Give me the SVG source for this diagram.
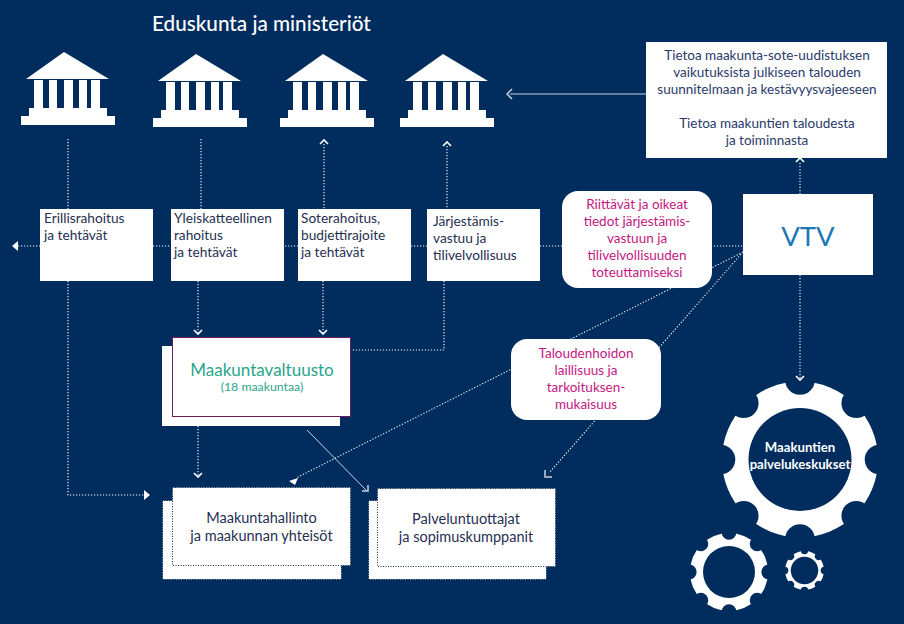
<svg xmlns="http://www.w3.org/2000/svg" xmlns:xlink="http://www.w3.org/1999/xlink" width="904" height="624" viewBox="0 0 904 624">
<style>
text{font-family:"Lato","Liberation Sans",sans-serif}
.d{fill:none;stroke:#fff;stroke-width:1.1;stroke-dasharray:1.200 1.800}
.s{fill:none;stroke:#c8d4e4;stroke-width:1}
.a{fill:none;stroke:#fff;stroke-width:1.600}
.t{fill:#fff}
.b{fill:#fff}
.n{fill:#1f3052;font-size:13.700px}
.c{text-anchor:middle}
.m{fill:#c4177f;font-size:13.500px;text-anchor:middle}
.k{fill:#1f3052;font-size:14.500px;text-anchor:middle}
</style>
<defs>
<path id="temple" d="M64 52L109 79H26ZM34 80H43V108H34ZM49 80H57V108H49ZM64 80H73V108H64ZM79 80H87V108H79ZM91 80H100V108H91ZM29 108H107V116H115V125H21V116H29Z"/>
<g id="gear">
<circle r="50" fill="#fff"/>
<g fill="#002d5e">
<circle cy="-51" r="9.500"/><circle cy="-51" r="9.500" transform="rotate(45)"/><circle cy="-51" r="9.500" transform="rotate(90)"/><circle cy="-51" r="9.500" transform="rotate(135)"/><circle cy="-51" r="9.500" transform="rotate(180)"/><circle cy="-51" r="9.500" transform="rotate(225)"/><circle cy="-51" r="9.500" transform="rotate(270)"/><circle cy="-51" r="9.500" transform="rotate(315)"/>
</g>
</g>
</defs>
<rect width="904" height="624" fill="#002d5e"/>
<g id="gear1"><use href="#gear" transform="translate(800 459.500) scale(1.56)"/><circle cx="800" cy="459.500" r="51.500" fill="#002d5e"/><text x="800" y="452" class="c" fill="#fff" font-size="13.200" font-weight="700">Maakuntien</text><text x="800" y="469" class="c" fill="#fff" font-size="13.200" font-weight="700">palvelukeskukset</text></g>
<g id="connectors">
<path class="d" d="M68 139V209M68 281V495H146M201 139V209M324 144V209M447 146V209M198 281V333M323 281V333M444 281V350H351M198 426V476M18 246H743M800 163V194M800 275V379M743 252L296 478M743 252L549 473"/>
<path class="s" d="M307 430L366 490M646 94H510"/>
<path class="a" d="M320 144L324 140L328 144M443 146L447 142L451 146M194 330L198 334L202 330M319 330L323 334L327 330M194 473L198 477L202 473M796 162L800 158L804 162M796 376L800 380L804 376"/>
<path class="s" style="stroke-width:1.500" d="M512 89L507 94L512 99M362 491H368V485M545 470V477H552"/>
<path class="t" d="M12 246L18 241V251ZM150 495L144 490V500ZM289 481L298 478L295 485Z"/>
</g>
<g id="title"><text x="152" y="31" fill="#fff" font-size="20.700" font-weight="500">Eduskunta ja ministeriöt</text></g>
<g id="temple1"><use href="#temple" class="t"/></g>
<g id="temple2"><use href="#temple" class="t" x="132" y="2"/></g>
<g id="temple3"><use href="#temple" class="t" x="259" y="2"/></g>
<g id="temple4"><use href="#temple" class="t" x="379" y="2"/></g>
<g id="info"><rect class="b" x="646" y="42" width="241" height="116"/>
<g class="c" fill="#2a3a6a" font-size="13.500"><text x="767" y="60">Tietoa maakunta-sote-uudistuksen</text><text x="767" y="77">vaikutuksista julkiseen talouden</text><text x="767" y="94">suunnitelmaan ja kestävyysvajeeseen</text><text x="767" y="128">Tietoa maakuntien taloudesta</text><text x="767" y="145">ja toiminnasta</text></g></g>
<g id="erillis"><rect class="b" x="40" y="209" width="113" height="72"/><text class="n" x="44" y="223">Erillisrahoitus</text><text class="n" x="44" y="240">ja tehtävät</text></g>
<g id="yleis"><rect class="b" x="171" y="209" width="113" height="72"/><text class="n" x="174" y="223">Yleiskatteellinen</text><text class="n" x="174" y="240">rahoitus</text><text class="n" x="174" y="257">ja tehtävät</text></g>
<g id="sote"><rect class="b" x="298" y="209" width="113" height="72"/><text class="n" x="301" y="223">Soterahoitus,</text><text class="n" x="301" y="240">budjettirajoite</text><text class="n" x="301" y="257">ja tehtävät</text></g>
<g id="jarj"><rect class="b" x="427" y="209" width="113" height="72"/><text class="n" x="433" y="226">Järjestämis-</text><text class="n" x="433" y="243">vastuu ja</text><text class="n" x="433" y="260">tilivelvollisuus</text></g>
<g id="riittavat"><rect class="b" x="562" y="191" width="150" height="97" rx="16"/><text class="m" x="637" y="209">Riittävät ja oikeat</text><text class="m" x="637" y="226">tiedot järjestämis-</text><text class="m" x="637" y="243">vastuun ja</text><text class="m" x="637" y="260">tilivelvollisuuden</text><text class="m" x="637" y="277">toteuttamiseksi</text></g>
<g id="vtv"><rect class="b" x="743" y="194" width="130" height="81"/><text x="808" y="246" class="c" fill="#1f78b4" font-size="27.500">VTV</text></g>
<g id="talous"><rect class="b" x="511" y="339" width="150" height="81" rx="16"/><text class="m" x="586" y="358">Taloudenhoidon</text><text class="m" x="586" y="375">laillisuus ja</text><text class="m" x="586" y="392">tarkoituksen-</text><text class="m" x="586" y="409">mukaisuus</text></g>
<g id="valtuusto"><rect class="b" x="162" y="346" width="178" height="80"/><rect class="b" x="172.500" y="337.500" width="178" height="79" stroke="#6b1a5e" stroke-width="1"/><text x="262" y="376" class="c" fill="#2aa58a" font-size="17">Maakuntavaltuusto</text><text x="262" y="391" class="c" fill="#2aa58a" font-size="12.300">(18 maakuntaa)</text></g>
<g id="hallinto"><rect class="b" x="163" y="501" width="178" height="78" stroke="#fff" stroke-dasharray="1 1.500"/><rect class="b" x="172.500" y="487.500" width="178" height="78" stroke="#1f3052" stroke-dasharray="1 1.500"/><text class="k" x="261.500" y="523">Maakuntahallinto</text><text class="k" x="261.500" y="541">ja maakunnan yhteisöt</text></g>
<g id="tuottajat"><rect class="b" x="369" y="501" width="177" height="78" stroke="#fff" stroke-dasharray="1 1.500"/><rect class="b" x="377.500" y="488.500" width="178" height="78" stroke="#1f3052" stroke-dasharray="1 1.500"/><text class="k" x="466" y="524">Palveluntuottajat</text><text class="k" x="466" y="542">ja sopimuskumppanit</text></g>
<g id="gear2"><use href="#gear" transform="translate(729 572) scale(.78)"/><circle cx="729" cy="572" r="26" fill="#002d5e"/></g>
<g id="gear3"><use href="#gear" transform="translate(804.500 570.500) scale(.39)"/><circle cx="804.500" cy="570.500" r="13.700" fill="#002d5e"/></g>
</svg>
